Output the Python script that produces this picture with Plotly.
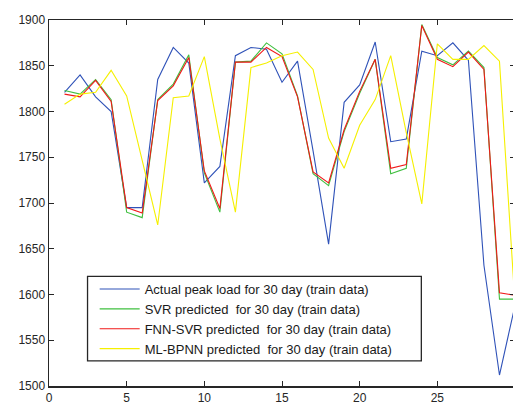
import plotly.graph_objects as go

days = list(range(1, 31))
actual = [1821, 1840, 1816, 1800, 1695, 1695, 1835, 1870, 1853, 1722,
          1740, 1861, 1870, 1868, 1832, 1855, 1757, 1655, 1810, 1829,
          1876, 1767, 1770, 1866, 1861, 1875, 1856, 1632, 1512, 1588]
svr = [1823, 1819, 1835, 1813, 1690, 1684, 1813, 1830, 1862, 1733,
       1690, 1854, 1855, 1875, 1863, 1817, 1732, 1719, 1778, 1820,
       1857, 1732, 1738, 1895, 1859, 1851, 1866, 1848, 1595, 1595]
fnn_svr = [1819, 1816, 1834, 1811, 1695, 1689, 1812, 1828, 1859, 1735,
           1694, 1854, 1854, 1870, 1860, 1816, 1734, 1722, 1780, 1822,
           1857, 1738, 1742, 1894, 1857, 1849, 1865, 1846, 1602, 1599]
ml_bpnn = [1808, 1819, 1821, 1845, 1817, 1747, 1676, 1815, 1817, 1860,
           1770, 1690, 1848, 1853, 1861, 1865, 1846, 1771, 1738, 1785,
           1813, 1861, 1777, 1699, 1874, 1857, 1857, 1872, 1855, 1590]

series_names = [
    "Actual peak load for 30 day (train data)",
    "SVR predicted\u00a0 for 30 day (train data)",
    "FNN-SVR predicted\u00a0 for 30 day (train data)",
    "ML-BPNN predicted\u00a0 for 30 day (train data)",
]
series_values = [actual, svr, fnn_svr, ml_bpnn]
series_colors = ["#2f52b8", "#3fbf3f", "#f01818", "#f5f000"]

xticks = [0, 5, 10, 15, 20, 25, 30]
yticks = [1500, 1550, 1600, 1650, 1700, 1750, 1800, 1850, 1900]

fig = go.Figure()
for name, vals, col in zip(series_names, series_values, series_colors):
    fig.add_trace(go.Scatter(x=days, y=vals, mode="lines", name=name,
                             line=dict(color=col, width=1.1)))

axis_col = "#262626"
font = "Liberation Sans, Arial, Helvetica, sans-serif"
fig.update_layout(
    width=517, height=405,
    margin=dict(l=49, r=0, t=20, b=17),
    paper_bgcolor="white", plot_bgcolor="white",
    font=dict(family=font, size=12, color=axis_col),
    showlegend=True,
    legend=dict(x=0.098, y=0.306, xanchor="left", yanchor="top",
                bgcolor="rgba(0,0,0,0)", borderwidth=0,
                font=dict(family=font, size=13, color="#1a1a1a"),
                itemwidth=40, tracegroupgap=0),
    shapes=[dict(type="rect", xref="paper", yref="paper",
                 x0=0.0827, x1=0.799, y0=0.0688, y1=0.2997,
                 line=dict(color=axis_col, width=1.3),
                 fillcolor="white", layer="above")],
)
fig.update_xaxes(range=[0, 30], tickvals=xticks, ticks="inside", ticklen=5,
                 showline=True, linecolor=axis_col, linewidth=1.5, mirror="ticks",
                 tickcolor=axis_col, showgrid=False, zeroline=False,
                 tickfont=dict(size=12))
fig.update_yaxes(range=[1500, 1900], tickvals=yticks, ticks="inside", ticklen=5,
                 showline=True, linecolor=axis_col, linewidth=1.5, mirror="ticks",
                 tickcolor=axis_col, showgrid=False, zeroline=False,
                 tickfont=dict(size=12))

page_js = ("document.documentElement.style.overflow='hidden';"
           "document.body.style.margin='0';"
           "document.body.style.overflow='hidden';")
fig.write_html("out.html", post_script=page_js,
               config={"displayModeBar": False, "staticPlot": True})
